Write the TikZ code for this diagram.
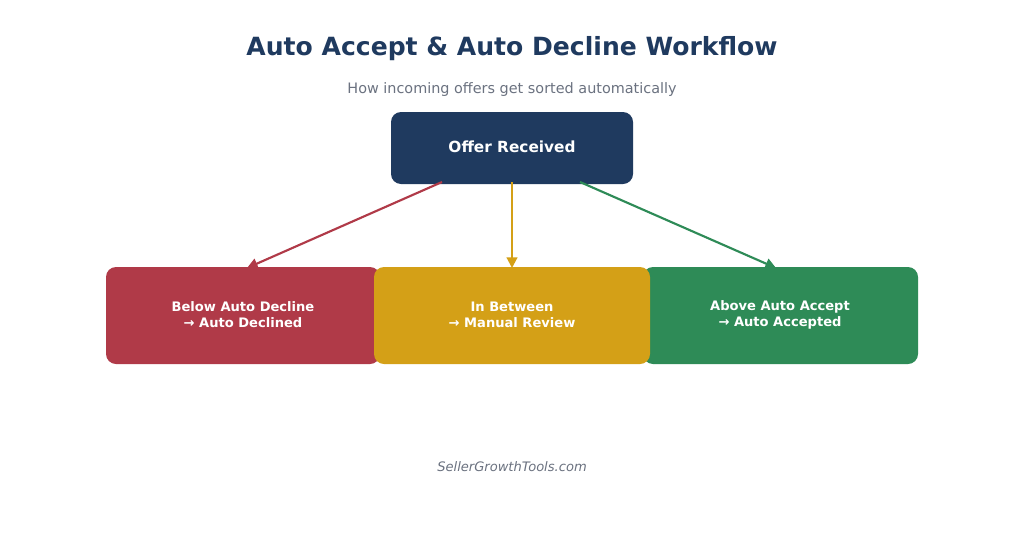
\documentclass[tikz,border=0pt]{standalone}
\usepackage{fontspec}
\setmainfont{DejaVu Sans}
\usetikzlibrary{arrows.meta}
\definecolor{navy}{HTML}{1F3A5F}
\definecolor{redc}{HTML}{B03A48}
\definecolor{yelc}{HTML}{D4A017}
\definecolor{grnc}{HTML}{2E8B57}
\definecolor{graytxt}{HTML}{6B7280}
\begin{document}
\begin{tikzpicture}[x=0.75pt,y=-0.75pt,
  box/.style={rounded corners=7.5pt,inner sep=0pt},
  boxtxt/.style={text=white,font=\bfseries\fontsize{9.8}{12}\selectfont,align=center},
  arr/.style={line width=1.6pt,-{Triangle[length=8pt,width=8pt]}}]
\useasboundingbox[fill=white] (0,0) rectangle (1024,550);
\node[font=\bfseries\fontsize{18.8}{23}\selectfont,text=navy] (title) at (512,49) {Auto Accept \& Auto Decline Workflow};
\node[font=\fontsize{10.8}{13}\selectfont,text=graytxt] (sub) at (512,90) {How incoming offers get sorted automatically};
\fill[navy,box] (391,112) rectangle (633,184);
\node[text=white,font=\bfseries\fontsize{11.5}{14}\selectfont] (offer) at (512,147) {Offer Received};
\fill[redc,box] (106,267) rectangle (380,364);
\fill[grnc,box] (643,267) rectangle (918,364);
\fill[yelc,box] (374,267) rectangle (650,364);
\node[boxtxt] (red) at (243,315) {Below Auto Decline\\→ Auto Declined};
\node[boxtxt] (yel) at (512,315) {In Between\\→ Manual Review};
\node[boxtxt] (grn) at (780,315) {Above Auto Accept\\→ Auto Accepted};
\coordinate (r1) at (442,182); \coordinate (r2) at (247,268);
\coordinate (y1) at (512,182); \coordinate (y2) at (512,268);
\coordinate (g1) at (580,182); \coordinate (g2) at (776,268);
\draw[arr,redc] (r1) -- (r2);
\draw[arr,yelc] (y1) -- (y2);
\draw[arr,grnc] (g1) -- (g2);
\node[font=\itshape\fontsize{9.8}{12}\selectfont,text=graytxt] (foot) at (512,467) {SellerGrowthTools.com};
\end{tikzpicture}
\end{document}
